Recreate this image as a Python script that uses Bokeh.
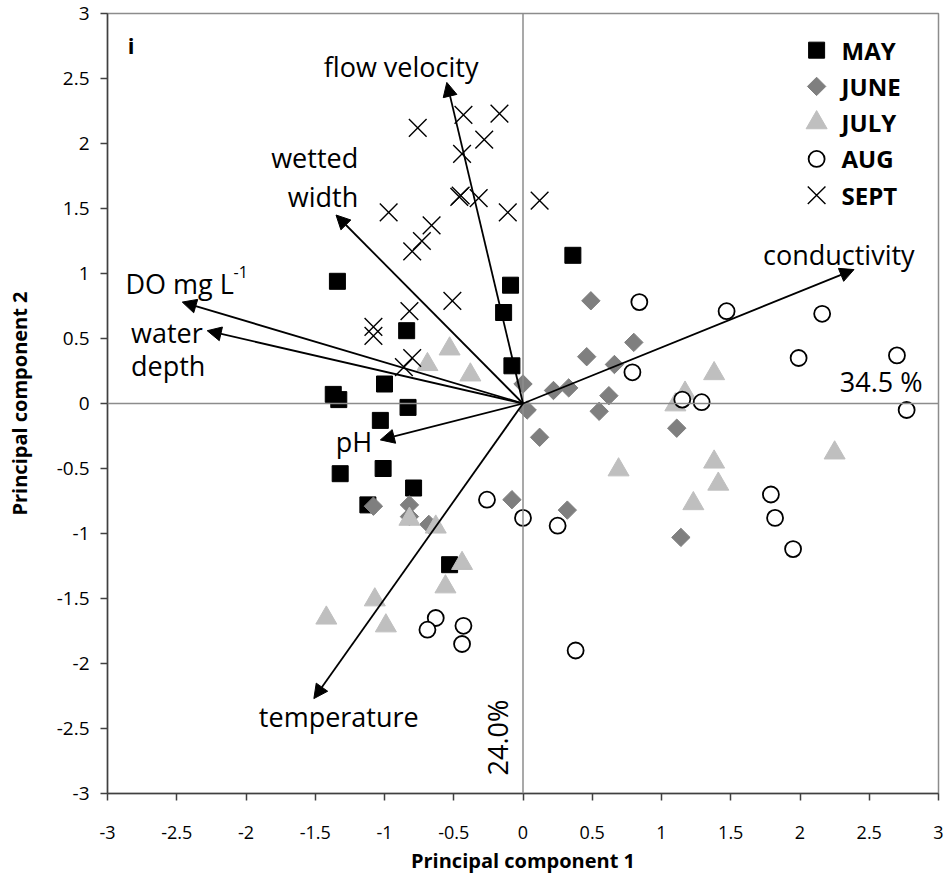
import numpy as np
from bokeh.plotting import figure
from bokeh.models import Range1d, FixedTicker, Span, Arrow, NormalHead, Label, ColumnDataSource
from bokeh.embed import file_html
from bokeh.resources import INLINE

# ---- sample scores on the first two principal components, by month ----
months = ["MAY", "JUNE", "JULY", "AUG", "SEPT"]

may_pc1 = [-1.34, -0.09, -0.14, -0.84, -0.08, -1.00, -1.37, -1.33, -0.83, 0.36,
           -1.03, -1.32, -1.01, -0.79, -1.12, -0.53]
may_pc2 = [0.94, 0.91, 0.70, 0.56, 0.29, 0.15, 0.07, 0.03, -0.03, 1.14,
           -0.13, -0.54, -0.50, -0.65, -0.78, -1.24]

june_pc1 = [0.49, 0.80, 0.46, 0.66, 0.00, 0.22, 0.33, 0.62, 0.03, 0.55,
            0.12, 1.11, -0.08, 0.32, 1.14, -1.08, -0.82, -0.82, -0.68]
june_pc2 = [0.79, 0.47, 0.36, 0.30, 0.15, 0.10, 0.12, 0.06, -0.05, -0.06,
            -0.26, -0.19, -0.74, -0.82, -1.03, -0.79, -0.78, -0.87, -0.93]

july_pc1 = [-0.53, -0.69, -0.38, 1.38, 1.17, 1.10, 0.69, 1.38, 1.41, 1.23,
            2.25, -0.82, -0.63, -0.44, -0.56, -1.07, -1.42, -0.99]
july_pc2 = [0.42, 0.30, 0.22, 0.23, 0.08, -0.01, -0.51, -0.45, -0.62, -0.77,
            -0.38, -0.89, -0.95, -1.23, -1.41, -1.51, -1.65, -1.71]

aug_pc1 = [0.84, 1.47, 2.16, 1.99, 2.70, 0.79, 1.15, 1.29, 2.77, 0.00,
           0.25, 0.38, 1.79, 1.82, 1.95, -0.26, -0.63, -0.69, -0.43, -0.44]
aug_pc2 = [0.78, 0.71, 0.69, 0.35, 0.37, 0.24, 0.03, 0.01, -0.05, -0.88,
           -0.94, -1.90, -0.70, -0.88, -1.12, -0.74, -1.65, -1.74, -1.71, -1.85]

sept_pc1 = [-0.76, -0.43, -0.17, -0.28, -0.44, -0.46, -0.45, -0.32, -0.11, 0.12,
            -0.97, -0.66, -0.73, -0.80, -0.51, -0.82, -1.08, -1.08, -0.80, -0.86]
sept_pc2 = [2.12, 2.22, 2.23, 2.03, 1.92, 1.59, 1.60, 1.58, 1.47, 1.56,
            1.47, 1.37, 1.25, 1.17, 0.79, 0.71, 0.59, 0.52, 0.35, 0.28]

# ---- environmental variable loadings (arrow tips) ----
variables = ["flow velocity", "wetted width", "DO mg L-1", "water depth",
             "pH", "temperature", "conductivity"]
loading_pc1 = [-0.55, -1.35, -2.46, -2.28, -1.03, -1.51, 2.39]
loading_pc2 = [2.47, 1.45, 0.78, 0.56, -0.28, -2.27, 1.03]

# ---- explained variance (%) ----
var_pc1 = 34.5
var_pc2 = 24.0

# ---- axis ticks ----
tick_values = [-3.0, -2.5, -2.0, -1.5, -1.0, -0.5, 0.0, 0.5, 1.0, 1.5, 2.0, 2.5, 3.0]
tick_labels = ["-3", "-2.5", "-2", "-1.5", "-1", "-0.5", "0", "0.5", "1", "1.5", "2", "2.5", "3"]

FONT = "Open Sans"

p = figure(width=949, height=881, output_backend="svg", toolbar_location=None,
           x_range=Range1d(-3, 3), y_range=Range1d(-3, 3),
           min_border_left=107, min_border_right=11, min_border_top=13, min_border_bottom=88)
p.background_fill_color = "white"
p.border_fill_color = "white"
p.outline_line_color = "#8c8c8c"
p.outline_line_width = 1.5
p.xgrid.visible = False
p.ygrid.visible = False

overrides = {v: s for v, s in zip(tick_values, tick_labels)}
for ax in (p.xaxis[0], p.yaxis[0]):
    ax.ticker = FixedTicker(ticks=tick_values)
    ax.major_label_overrides = overrides
    ax.axis_line_color = "#404040"
    ax.axis_line_width = 1.5
    ax.major_tick_line_color = "#404040"
    ax.major_tick_line_width = 1.5
    ax.major_tick_in = 0
    ax.major_tick_out = 7
    ax.minor_tick_line_color = None
    ax.major_label_text_font = FONT
    ax.major_label_text_color = "black"
    ax.axis_label_text_font = FONT
    ax.axis_label_text_font_size = "20px"
    ax.axis_label_text_font_style = "bold"
    ax.axis_label_text_color = "black"

p.xaxis.axis_label = "Principal component 1"
p.yaxis.axis_label = "Principal component 2"
p.xaxis.major_label_text_font_size = "18px"
p.xaxis.major_label_standoff = 25
p.xaxis.axis_label_standoff = 5
p.yaxis.major_label_text_font_size = "19px"
p.yaxis.major_label_standoff = 11
p.yaxis.axis_label_standoff = 21

# zero reference lines
for dim in ("width", "height"):
    p.add_layout(Span(location=0, dimension=dim, line_color="#8c8c8c", line_width=1.5))

# month styles
styles = {
    "MAY": dict(marker="square", size=16, fill_color="black", line_color="black", line_width=1, angle=0),
    "JUNE": dict(marker="square", size=13, fill_color="#7f7f7f", line_color="#7f7f7f", line_width=1, angle=np.pi / 4),
    "JULY": dict(marker="triangle", size=21, fill_color="#bfbfbf", line_color="#bfbfbf", line_width=1, angle=0),
    "AUG": dict(marker="circle", size=16, fill_color="white", line_color="black", line_width=1.8, angle=0),
    "SEPT": dict(marker="x", size=25, fill_color=None, line_color="black", line_width=1.4, angle=0),
}
scores = {
    "MAY": (may_pc1, may_pc2),
    "JUNE": (june_pc1, june_pc2),
    "JULY": (july_pc1, july_pc2),
    "AUG": (aug_pc1, aug_pc2),
    "SEPT": (sept_pc1, sept_pc2),
}

for m in months:
    xs, ys = scores[m]
    p.scatter(x=xs, y=ys, **styles[m])

# loading arrows from the origin
arrow_src = ColumnDataSource(dict(x0=[0.0] * len(variables), y0=[0.0] * len(variables),
                                  x1=loading_pc1, y1=loading_pc2))
p.add_layout(Arrow(source=arrow_src, x_start="x0", y_start="y0", x_end="x1", y_end="y1",
                   line_color="black", line_width=1.8,
                   end=NormalHead(size=14, fill_color="black", line_color="black", line_width=1)))

# variable names beside the arrows
var_labels = [
    ("flow velocity", -0.88, 2.595, "center"),
    ("wetted", -1.19, 1.895, "right"),
    ("width", -1.19, 1.595, "right"),
    ("DO mg L", -2.87, 0.925, "left"),
    ("water", -2.83, 0.55, "left"),
    ("depth", -2.83, 0.29, "left"),
    ("pH", -1.22, -0.29, "center"),
    ("temperature", -1.33, -2.405, "center"),
    ("conductivity", 2.28, 1.148, "center"),
]
for txt, lx, ly, al in var_labels:
    p.add_layout(Label(x=lx, y=ly, text=txt, text_align=al, text_baseline="middle",
                       text_font=FONT, text_font_size="27px", text_color="black"))
# superscript of the DO unit
p.add_layout(Label(x=-2.09, y=1.01, text="-1", text_align="left", text_baseline="middle",
                   text_font=FONT, text_font_size="16px", text_color="black"))

# explained variance on each axis
p.add_layout(Label(x=2.885, y=0.172, text=f"{var_pc1:.1f} %", text_align="right",
                   text_baseline="middle", text_font=FONT, text_font_size="27px", text_color="black"))
p.add_layout(Label(x=-0.186, y=-2.57, text=f"{var_pc2:.1f}%", text_align="center",
                   text_baseline="middle", angle=np.pi / 2, text_font=FONT,
                   text_font_size="27px", text_color="black"))

# panel letter
p.add_layout(Label(x=-2.83, y=2.755, text="i", text_align="center", text_baseline="middle",
                   text_font=FONT, text_font_size="22px", text_font_style="bold", text_color="black"))

# legend: marker column plus bold month names
leg_x, leg_text_x, leg_top, leg_step = 2.12, 2.30, 2.718, 0.279
leg_y = [leg_top - i * leg_step for i in range(len(months))]
for m, yy in zip(months, leg_y):
    p.scatter(x=[leg_x], y=[yy], **styles[m])
    p.add_layout(Label(x=leg_text_x, y=yy, text=m, text_align="left", text_baseline="middle",
                       text_font=FONT, text_font_size="24px", text_font_style="bold", text_color="black"))

open("out.html", "w").write(file_html(p, INLINE))
